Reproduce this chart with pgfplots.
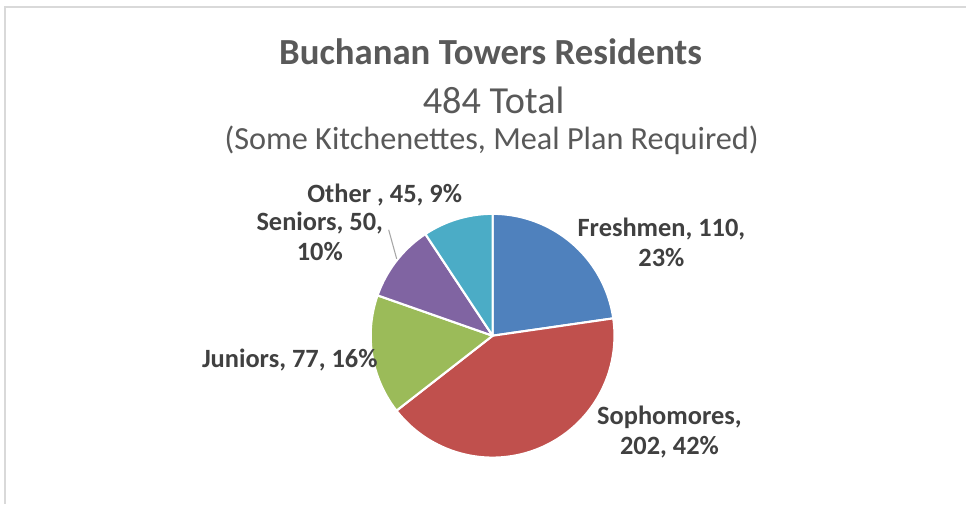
\documentclass[border=0pt]{standalone}
\usepackage{pgfplots}
\usepackage{pgfplotstable}
\pgfplotsset{compat=1.18}
\usepackage{fontspec}
\setmainfont{Carlito}
\definecolor{cFresh}{HTML}{4F81BD}
\definecolor{cSoph}{HTML}{C0504D}
\definecolor{cJun}{HTML}{9BBB59}
\definecolor{cSen}{HTML}{8064A2}
\definecolor{cOth}{HTML}{4BACC6}
\definecolor{titlegray}{HTML}{595959}
\definecolor{labgray}{HTML}{404040}
\definecolor{framegray}{HTML}{D9D9D9}

\pgfplotstableread{
name value
Freshmen 110
Sophomores 202
Juniors 77
Seniors 50
Other 45
}\piedata

\pgfplotstablegetelem{0}{value}\of\piedata \let\vA\pgfplotsretval
\pgfplotstablegetelem{1}{value}\of\piedata \let\vB\pgfplotsretval
\pgfplotstablegetelem{2}{value}\of\piedata \let\vC\pgfplotsretval
\pgfplotstablegetelem{3}{value}\of\piedata \let\vD\pgfplotsretval
\pgfplotstablegetelem{4}{value}\of\piedata \let\vE\pgfplotsretval
\pgfmathsetmacro\tot{\vA+\vB+\vC+\vD+\vE}
\pgfmathsetmacro\aZero{90}
\pgfmathsetmacro\aA{\aZero-\vA/\tot*360}
\pgfmathsetmacro\aB{\aA-\vB/\tot*360}
\pgfmathsetmacro\aC{\aB-\vC/\tot*360}
\pgfmathsetmacro\aD{\aC-\vD/\tot*360}
\pgfmathsetmacro\aE{\aD-\vE/\tot*360}

\begin{document}
\begin{tikzpicture}[x=0.75pt,y=0.75pt]
\path[fill=white] (0,0) rectangle (967,504);
\draw[framegray, line width=1.2pt] (5,0) -- (5,497) -- (967,497);
\begin{axis}[
  at={(369.75pt,126pt)}, anchor=center,
  scale only axis, width=183pt, height=183pt,
  xmin=-1, xmax=1, ymin=-1, ymax=1,
  hide axis, clip=false,
  every axis plot/.style={draw=white, line width=1.6pt, samples=90, data cs=polar, line join=round},
]
\addplot[fill=cFresh, domain=\aA:\aZero] (x,1) -- (axis cs:0,0) -- cycle;
\addplot[fill=cSoph, domain=\aB:\aA] (x,1) -- (axis cs:0,0) -- cycle;
\addplot[fill=cJun, domain=\aC:\aB] (x,1) -- (axis cs:0,0) -- cycle;
\addplot[fill=cSen, domain=\aD:\aC] (x,1) -- (axis cs:0,0) -- cycle;
\addplot[fill=cOth, domain=\aE:\aD] (x,1) -- (axis cs:0,0) -- cycle;
\end{axis}
\draw[gray!70, line width=0.8pt] (389,274) -- (397,245);
\node[titlegray, font=\fontsize{27.6}{32}\selectfont\bfseries] at (491,452) {Buchanan Towers Residents};
\node[titlegray, font=\fontsize{28.7}{32}\selectfont] at (494,404) {484 Total};
\node[titlegray, font=\fontsize{24.2}{28}\selectfont] at (492,364) {(Some Kitchenettes, Meal Plan Required)};
\begin{scope}[every node/.style={labgray, font=\fontsize{19.8}{22.5}\selectfont\bfseries, align=center}]
\node at (385,309) {Other , 45, 9\%};
\node at (320,267) {Seniors, 50,\\10\%};
\node at (662,261) {Freshmen, 110,\\23\%};
\node at (290,144) {Juniors, 77, 16\%};
\node at (670,72) {Sophomores,\\202, 42\%};
\end{scope}
\end{tikzpicture}
\end{document}
